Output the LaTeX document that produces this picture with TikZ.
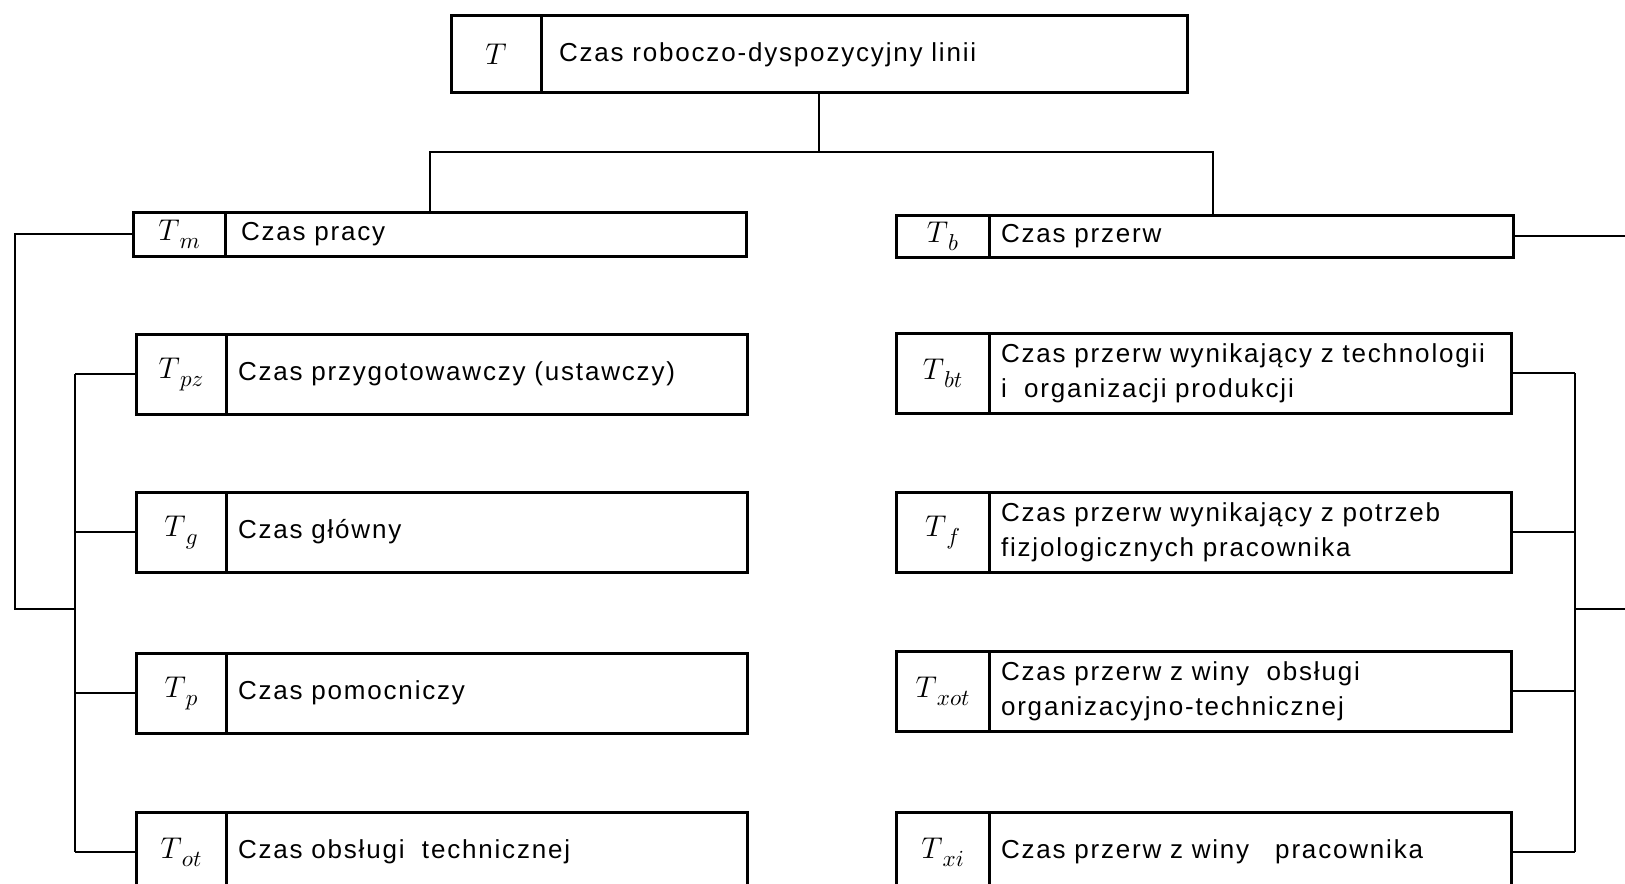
\RequirePackage{fix-cm}
\documentclass[tikz,border=0pt]{standalone}
\usepackage{fontspec}
\setmainfont{Liberation Sans}[LetterSpace=7]
\usetikzlibrary{positioning}
\newcommand\tsub[1]{$T$\raisebox{-4pt}{\fontsize{11.5}{12}\selectfont$#1$}}

\begin{document}
\begin{tikzpicture}[x=.5pt,y=-.5pt,
lab/.style={draw,line width=1.5pt,outer sep=0pt,anchor=north west,minimum width=45pt,minimum height=40pt,inner sep=0pt,font=\fontsize{15}{16}\selectfont},
txt/.style={draw,line width=1.5pt,outer sep=0pt,anchor=north west,minimum height=40pt,inner xsep=6pt,inner ysep=0pt,align=left,text width=248.5pt,font=\fontsize{13}{17.5}\selectfont},
con/.style={line width=.9pt}]
\useasboundingbox(0,0)rectangle(1625,883);\clip(0,0)rectangle(1625,883);
\node[lab,minimum height=38.5pt](t)at(451,16){$T$};\node[txt,minimum height=38.5pt,inner xsep=9pt,text width=305pt](tx)at(t.north east){Czas roboczo-dyspozycyjny linii};
\node[lab,minimum width=46pt,minimum height=22pt](tm)at(133,212){\tsub{m}};\node[txt,minimum height=22pt](tmx)at(tm.north east){\hspace{2pt}Czas pracy};
\node[lab,minimum width=46.5pt,minimum height=21pt](tb)at(896,215){\tsub{b}};\node[txt,minimum height=21pt,text width=250pt](tbx)at(tb.north east){Czas przerw};
\node[lab](tpz)at(136,334){\tsub{pz}};\node[txt](tpzx)at(tpz.north east){Czas przygotowawczy (ustawczy)};
\node[lab](tg)at(136,492){\tsub{g}};\node[txt](tgx)at(tg.north east){Czas główny};
\node[lab](tp)at(136,653){\tsub{p}};\node[txt](tpx)at(tp.north east){Czas pomocniczy};
\node[lab](tot)at(136,812){\tsub{ot}};\node[txt](totx)at(tot.north east){Czas obsługi\ \ technicznej};
\node[lab,minimum width=46.5pt](tbt)at(896,333){\tsub{bt}};\node[txt,text width=249pt](tbtx)at(tbt.north east){Czas przerw wynikający z technologii\\i\ \ organizacji produkcji};
\node[lab,minimum width=46.5pt](tf)at(896,492){\tsub{f}};\node[txt,text width=249pt](tfx)at(tf.north east){Czas przerw wynikający z potrzeb\\fizjologicznych pracownika};
\node[lab,minimum width=46.5pt](txot)at(896,651){\tsub{xot}};\node[txt,text width=249pt](txotx)at(txot.north east){Czas przerw z winy\ \ obsługi\\organizacyjno-technicznej};
\node[lab,minimum width=46.5pt](txi)at(896,812){\tsub{xi}};\node[txt,text width=249pt](txix)at(txi.north east){Czas przerw z winy\ \ \ pracownika};
\coordinate(top)at(819,152);\coordinate(bl)at(430,152);\coordinate(br)at(1213,152);
\coordinate(lo)at(15,609);\coordinate(lj)at(75,609);\coordinate(ro)at(1625,609);\coordinate(rj)at(1575,609);
\draw[con](top|-tx.south)--(top);\draw[con](bl|-tmx.north)--(bl)--(br)--(br|-tbx.north);
\draw[con](tm.west)-|(lo)--(lj);\draw[con](tpz.west-|lj)--(tot.west-|lj);
\foreach\n in{tpz,tg,tp,tot}{\draw[con](\n.west)--(\n.west-|lj);}
\draw[con](tbx.east)--(tbx.east-|ro);\draw[con](ro)--(rj);\draw[con](tbtx.east-|rj)--(txix.east-|rj);
\foreach\n in{tbtx,tfx,txotx,txix}{\draw[con](\n.east)--(\n.east-|rj);}
\end{tikzpicture}
\end{document}
